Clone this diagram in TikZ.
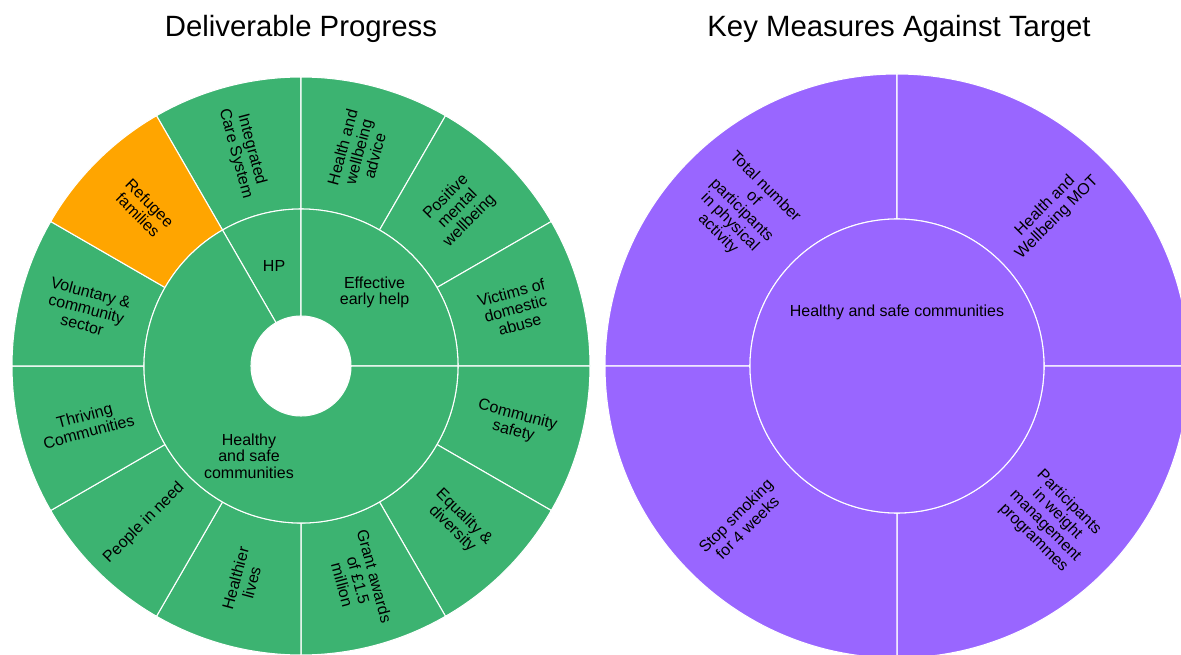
\documentclass[tikz,border=0pt]{standalone}
\usepackage{fontspec}
\setmainfont{Liberation Sans}
\definecolor{sgreen}{HTML}{3CB371}
\definecolor{sorange}{HTML}{FFA500}
\definecolor{spurple}{HTML}{9966FF}
\tikzset{
  seg/.style={draw=white, line width=0.8pt, line join=round},
  lbl/.style={text=black, font=\fontsize{12}{12.5}\selectfont, align=center, inner sep=0pt},
  ttl/.style={text=black, font=\fontsize{22}{26}\selectfont, anchor=base, inner sep=0pt},
}
\newcommand{\annsec}[6]{% #1 fill, #2 centre, #3 start, #4 end, #5 inner r, #6 outer r
  \filldraw[seg,fill=#1] ([shift={(#3:#6)}]#2) arc[start angle=#3,end angle=#4,radius=#6]
    -- ([shift={(#4:#5)}]#2) arc[start angle=#4,end angle=#3,radius=#5] -- cycle;}
\begin{document}
\begin{tikzpicture}[x=0.75pt,y=0.75pt]
\useasboundingbox (0,0) rectangle (1181,654);
\fill[white] (0,0) rectangle (1181,654);
\clip (0,0) rectangle (1181,654);
\coordinate (L) at (301,288);
\coordinate (R) at (897,288);

% ---- left sunburst: outer ring
\annsec{sgreen}{L}{90}{120}{157}{289}
\annsec{sgreen}{L}{60}{90}{157}{289}
\annsec{sgreen}{L}{30}{60}{157}{289}
\annsec{sgreen}{L}{0}{30}{157}{289}
\annsec{sgreen}{L}{-30}{0}{157}{289}
\annsec{sgreen}{L}{-60}{-30}{157}{289}
\annsec{sgreen}{L}{-90}{-60}{157}{289}
\annsec{sgreen}{L}{-120}{-90}{157}{289}
\annsec{sgreen}{L}{-150}{-120}{157}{289}
\annsec{sgreen}{L}{-180}{-150}{157}{289}
\annsec{sgreen}{L}{150}{180}{157}{289}
\annsec{sorange}{L}{120}{150}{157}{289}
% ---- left sunburst: inner ring
\annsec{sgreen}{L}{90}{120}{50}{157}
\annsec{sgreen}{L}{0}{90}{50}{157}
\annsec{sgreen}{L}{120}{360}{50}{157}

% ---- right sunburst
\annsec{spurple}{R}{90}{180}{147}{292}
\annsec{spurple}{R}{0}{90}{147}{292}
\annsec{spurple}{R}{-90}{0}{147}{292}
\annsec{spurple}{R}{-180}{-90}{147}{292}
\filldraw[seg,fill=spurple] (R) circle[radius=147];

% ---- titles
\node[ttl] (t1) at (301,617) {Deliverable Progress};
\node[ttl] (t2) at (899,617) {Key Measures Against Target};

% ---- left inner labels
\node[lbl] (hp) at ([shift={(105:104)}]L) {HP};
\node[lbl] (eeh) at ([shift={(45:104)}]L) {Effective\\early help};
\node[lbl] (hsc) at ([shift={(-120:104)}]L) {Healthy\\and safe\\communities};

% ---- left outer labels
\node[lbl,rotate=-75] (o1) at ([shift={(105:222)}]L) {Integrated\\Care System};
\node[lbl,rotate=75] (o2) at ([shift={(75:222)}]L) {Health and\\wellbeing\\advice};
\node[lbl,rotate=45] (o3) at ([shift={(45:222)}]L) {Positive\\mental\\wellbeing};
\node[lbl,rotate=15] (o4) at ([shift={(15:222)}]L) {Victims of\\domestic\\abuse};
\node[lbl,rotate=-15] (o5) at ([shift={(-15:222)}]L) {Community\\safety};
\node[lbl,rotate=-45] (o6) at ([shift={(-45:222)}]L) {Equality \&\\diversity};
\node[lbl,rotate=-75] (o7) at ([shift={(-75:222)}]L) {Grant awards\\of £1.5\\million};
\node[lbl,rotate=75] (o8) at ([shift={(-105:222)}]L) {Healthier\\lives};
\node[lbl,rotate=45] (o9) at ([shift={(-135:222)}]L) {People in need};
\node[lbl,rotate=15] (o10) at ([shift={(-165:222)}]L) {Thriving\\Communities};
\node[lbl,rotate=-15] (o11) at ([shift={(165:222)}]L) {Voluntary \&\\community\\sector};
\node[lbl,rotate=-45] (o12) at ([shift={(135:222)}]L) {Refugee\\families};

% ---- right labels
\node[lbl] (rin) at (897,342) {Healthy and safe communities};
\node[lbl,rotate=-45] (r1) at ([shift={(135:220)}]R) {Total number\\of\\participants\\in physical\\activity};
\node[lbl,rotate=45] (r2) at ([shift={(45:218)}]R) {Health and\\Wellbeing MOT};
\node[lbl,rotate=-45] (r3) at ([shift={(-45:218)}]R) {Participants\\in weight\\management\\programmes};
\node[lbl,rotate=45] (r4) at ([shift={(-135:220)}]R) {Stop smoking\\for 4 weeks};
\end{tikzpicture}
\end{document}
